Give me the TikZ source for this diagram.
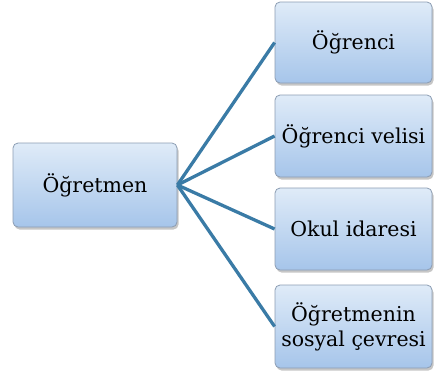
\documentclass[tikz,border=0pt]{standalone}
\usepackage{fontspec}
\setmainfont{DejaVu Serif}
\usetikzlibrary{shadows}
\definecolor{topc}{HTML}{DFEBF8}
\definecolor{botc}{HTML}{A6C5EA}
\definecolor{edgec}{HTML}{8C9DB3}
\definecolor{linec}{HTML}{3A7BA6}
\begin{document}
\begin{tikzpicture}[x=1pt,y=-1pt,
  box/.style={draw=edgec, line width=0.8pt, rounded corners=5pt, top color=topc, bottom color=botc,
    drop shadow={opacity=0.45, shadow xshift=1.5pt, shadow yshift=-2.5pt},
    align=center, inner sep=0pt, font=\fontsize{20.5}{25}\selectfont, text=black},
  conn/.style={draw=linec, line width=3.3pt}]
\useasboundingbox (0,0) rectangle (434,376);
\node[box, minimum width=164pt, minimum height=84pt] (t) at (95,185) {Öğretmen};
\node[box, minimum width=157pt, minimum height=81pt] (a) at (353.5,42.5) {Öğrenci};
\node[box, minimum width=157pt, minimum height=82pt] (b) at (353.5,136) {Öğrenci velisi};
\node[box, minimum width=157pt, minimum height=82pt] (c) at (353.5,229) {Okul idaresi};
\node[box, minimum width=157pt, minimum height=83pt] (d) at (353.5,326.5) {Öğretmenin\\sosyal çevresi};
\foreach \n in {a,b,c,d} \draw[conn] (t.east) -- (\n.west);
\end{tikzpicture}
\end{document}
